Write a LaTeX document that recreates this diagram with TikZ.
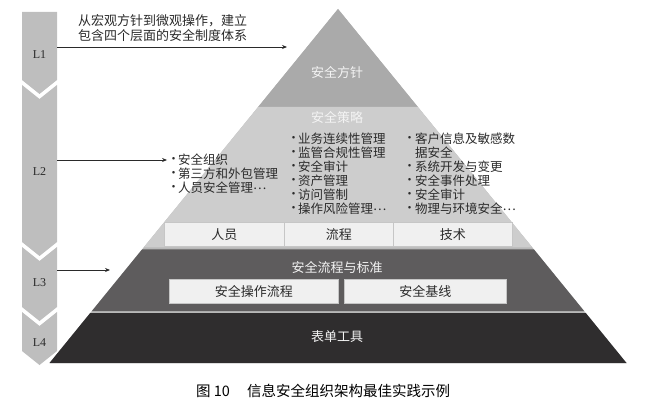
\documentclass[tikz,border=0pt]{standalone}
\usepackage{fontspec}
\setmainfont{Liberation Serif}
\newfontfamily\cjk{Noto Sans CJK SC}
\usetikzlibrary{arrows.meta}
\definecolor{colgray}{HTML}{BEBEBE}
\definecolor{gapgray}{HTML}{B8B8B8}
\definecolor{layA}{HTML}{AAAAAA}
\definecolor{layB}{HTML}{CDCDCD}
\definecolor{layC}{HTML}{5E5C5D}
\definecolor{layD}{HTML}{2F2D2E}
\definecolor{boxfill}{HTML}{F0F0F0}
\definecolor{boxline}{HTML}{C6C6C6}
\definecolor{txt}{HTML}{2A2A2A}
\definecolor{wtxt}{HTML}{F4F4F4}
\newcommand{\myell}{\raisebox{3pt}{…}}
\begin{document}
\begin{tikzpicture}[x=1pt,y=-1pt,
  lvl/.style={font=\fontsize{12}{14}\selectfont, text=txt, inner sep=0pt},
  wtitle/.style={font=\cjk\fontsize{13}{15}\selectfont, text=wtxt, inner sep=0pt},
  bx/.style={draw=boxline, line width=0.8pt, fill=boxfill, anchor=north west, inner sep=0pt,
             font=\cjk\fontsize{13}{15}\selectfont, text=txt},
  lst/.style={font=\cjk\fontsize{12.5}{14}\selectfont, text=txt, anchor=west, inner sep=0pt},
  bul/.style={font=\cjk\fontsize{12.5}{14}\selectfont, text=txt, inner sep=0pt},
  arr/.style={draw=txt, line width=0.8pt, -{Stealth[length=5pt,width=4pt]}}]
\useasboundingbox (0,0) rectangle (646,409);

% left level column
\fill[colgray] (22,12) -- (57,12) -- (57,80) -- (39.5,94) -- (22,80) -- cycle;
\fill[colgray] (22,85) -- (39.5,99) -- (57,85) -- (57,242) -- (39.5,256) -- (22,242) -- cycle;
\fill[colgray] (22,247) -- (39.5,261) -- (57,247) -- (57,307) -- (39.5,321) -- (22,307) -- cycle;
\fill[colgray] (22,312) -- (39.5,326) -- (57,312) -- (57,351) -- (39.5,365) -- (22,351) -- cycle;
\node[lvl] (l1) at (39.5,55) {L1};
\node[lvl] (l2) at (39.5,172) {L2};
\node[lvl] (l3) at (39.5,283) {L3};
\node[lvl] (l4) at (39.5,343) {L4};

% pyramid
\fill[gapgray] (338,9) -- (626.5,363) -- (49.5,363) -- cycle;
\fill[layA] (338,9) -- (417.9,107) -- (258.1,107) -- cycle;
\fill[layB] (258.1,107) -- (417.9,107) -- (532.4,247.5) -- (143.6,247.5) -- cycle;
\fill[layC] (142,249.5) -- (534,249.5) -- (584.1,311) -- (91.9,311) -- cycle;
\fill[layD] (90.2,313) -- (585.8,313) -- (626.5,363) -- (49.5,363) -- cycle;

\node[wtitle] (t1) at (337,73) {安全方针};
\node[wtitle] (t2) at (337,117) {安全策略};
\node[wtitle] (t3) at (337,267) {安全流程与标准};
\node[wtitle] (t4) at (337,337) {表单工具};

% boxes
\node[bx, minimum width=120pt, minimum height=24pt] (p1) at (164,222) {人员};
\node[bx, minimum width=109pt, minimum height=24pt] (p2) at (284,222) {流程};
\node[bx, minimum width=119pt, minimum height=24pt] (p3) at (393,222) {技术};
\node[bx, minimum width=169pt, minimum height=24pt] (q1) at (169,279) {安全操作流程};
\node[bx, minimum width=162pt, minimum height=24pt] (q2) at (344,279) {安全基线};

% lists
\foreach \t [count=\i] in {安全组织,第三方和外包管理,人员安全管理\myell} {
  \node[bul] (lb\i) at (173.5,146+14*\i) {·};
  \node[lst] (lt\i) at (178,146+14*\i) {\t};
}
\foreach \t [count=\i] in {业务连续性管理,监管合规性管理,安全审计,资产管理,访问管制,操作风险管理\myell} {
  \node[bul] (mb\i) at (293.5,125+14*\i) {·};
  \node[lst] (mt\i) at (298,125+14*\i) {\t};
}
\foreach \t [count=\i] in {客户信息及敏感数,据安全,系统开发与变更,安全事件处理,安全审计,物理与环境安全\myell} {
  \node[lst] (rt\i) at (415,125+14*\i) {\t};
}
\foreach \i in {1,3,4,5,6} {
  \node[bul] (rb\i) at (409.5,125+14*\i) {·};
}

% top text
\node[lst, font=\cjk\fontsize{13}{15}\selectfont] (h1) at (78,21) {从宏观方针到微观操作，建立};
\node[lst, font=\cjk\fontsize{13}{15}\selectfont] (h2) at (78,36) {包含四个层面的安全制度体系};

% arrows
\coordinate (a1s) at (57,47);
\coordinate (a1e) at (287,47);
\coordinate (a2s) at (57,160);
\coordinate (a3s) at (57,270);
\coordinate (a3e) at (110,270);
\draw[arr] (a1s) -- (a1e);
\draw[arr] (a2s) -- (lb1.west);
\draw[arr] (a3s) -- (a3e);

% caption
\node[lst, font=\cjk\fontsize{14.5}{16}\selectfont, text=black] (c1) at (196,391) {图 10};
\node[lst, font=\cjk\fontsize{14.5}{16}\selectfont, text=black] (c2) at (247,391) {信息安全组织架构最佳实践示例};
\end{tikzpicture}
\end{document}
